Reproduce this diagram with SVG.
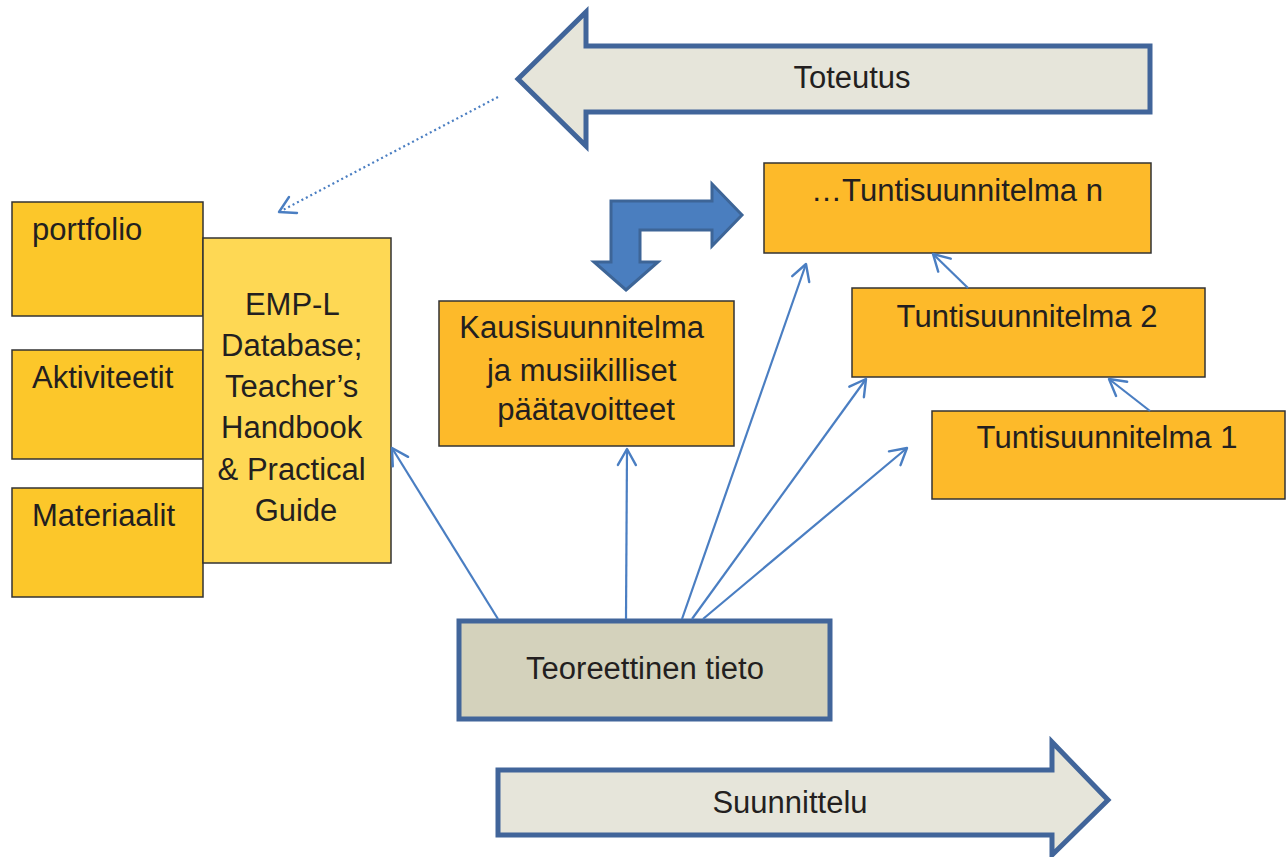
<svg xmlns="http://www.w3.org/2000/svg" width="1287" height="857" viewBox="0 0 1287 857">
  <style>
    .lbl { font-family: "Liberation Sans", Arial, sans-serif; font-size: 31px; fill: #231f20; }
    .mid { text-anchor: middle; }
    .box { stroke: #333; stroke-width: 1.5; }
    .side { fill: #fcc72a; }
    .db { fill: #fed854; }
    .plan { fill: #fdba2a; }
    .flow { fill: #e6e5da; stroke: #41659a; stroke-width: 5; stroke-linejoin: miter; }
    .link { fill: none; stroke: #4a7ec2; stroke-width: 2.2; marker-end: url(#open); }
  </style>
  <defs>
    <marker id="open" markerUnits="userSpaceOnUse" viewBox="-18 -11 20 22" markerWidth="20" markerHeight="22" refX="0" refY="0" orient="auto">
      <path d="M-16,-9 L0,0 L-16,9" fill="none" stroke="#4a7ec2" stroke-width="2.4" stroke-linecap="round" stroke-linejoin="round"/>
    </marker>
  </defs>

  <rect width="1287" height="857" fill="#ffffff"/>

  <!-- phase arrows -->
  <g id="toteutus">
    <path class="flow" d="M518,79 L586,12 L586,46 L1150,46 L1150,112 L586,112 L586,146 Z"/>
    <text class="lbl mid" x="852" y="88">Toteutus</text>
  </g>
  <g id="suunnittelu">
    <path class="flow" d="M498,770 L1052,770 L1052,742 L1108,800 L1052,855 L1052,835 L498,835 Z"/>
    <text class="lbl mid" x="790" y="813">Suunnittelu</text>
  </g>

  <!-- resource boxes -->
  <g id="portfolio">
    <rect class="box side" x="12" y="202" width="191" height="114"/>
    <text class="lbl" x="32" y="240">portfolio</text>
  </g>
  <g id="aktiviteetit">
    <rect class="box side" x="12" y="350" width="191" height="109"/>
    <text class="lbl" x="32" y="388">Aktiviteetit</text>
  </g>
  <g id="materiaalit">
    <rect class="box side" x="12" y="488" width="191" height="109"/>
    <text class="lbl" x="32" y="526">Materiaalit</text>
  </g>
  <g id="empl">
    <rect class="box db" x="203" y="238" width="188" height="325"/>
    <text class="lbl mid" x="296">
      <tspan x="296" y="315">EMP-L</tspan>
      <tspan x="296" y="356">Database;</tspan>
      <tspan x="296" y="397">Teacher’s</tspan>
      <tspan x="296" y="438">Handbook</tspan>
      <tspan x="296" y="480">&amp; Practical</tspan>
      <tspan x="296" y="521">Guide</tspan>
    </text>
  </g>

  <!-- plans -->
  <g id="kausi">
    <rect class="box plan" x="439" y="301" width="295" height="145"/>
    <text class="lbl mid" x="586">
      <tspan x="586" y="338">Kausisuunnitelma</tspan>
      <tspan x="586" y="381">ja musiikilliset</tspan>
      <tspan x="586" y="420">päätavoitteet</tspan>
    </text>
  </g>
  <g id="tunti-n">
    <rect class="box plan" x="764" y="163" width="387" height="90"/>
    <text class="lbl mid" x="957" y="201">…Tuntisuunnitelma n</text>
  </g>
  <g id="tunti-2">
    <rect class="box plan" x="852" y="288" width="353" height="89"/>
    <text class="lbl mid" x="1027" y="327">Tuntisuunnitelma 2</text>
  </g>
  <g id="tunti-1">
    <rect class="box plan" x="932" y="411" width="353" height="88"/>
    <text class="lbl mid" x="1107" y="448">Tuntisuunnitelma 1</text>
  </g>

  <!-- theory base -->
  <g id="teoria">
    <rect x="459" y="621" width="371" height="98" fill="#d4d2bc" stroke="#41659a" stroke-width="5"/>
    <text class="lbl mid" x="645" y="679">Teoreettinen tieto</text>
  </g>

  <!-- bent block arrow -->
  <g id="kaanne">
    <path d="M626,290 L658,262 L640,262 L640,230 L712,230 L712,246 L742,215 L712,184 L712,201 L611,201 L611,262 L594,262 Z" fill="#4a7ebf" stroke="#3d6597" stroke-width="3" stroke-linejoin="miter"/>
  </g>

  <!-- connectors -->
  <g id="connectors">
    <line class="link" x1="498" y1="619" x2="392" y2="448"/>
    <line class="link" x1="626" y1="619" x2="627" y2="449"/>
    <line class="link" x1="682" y1="619" x2="806" y2="264"/>
    <line class="link" x1="692" y1="619" x2="866" y2="379"/>
    <line class="link" x1="703" y1="619" x2="907" y2="448"/>
    <line class="link" x1="968" y1="288" x2="933" y2="254"/>
    <line class="link" x1="1150" y1="411" x2="1109" y2="379"/>
    <line x1="498" y1="97" x2="281" y2="211" fill="none" stroke="#4a7ec2" stroke-width="2.2" stroke-dasharray="2 3"/>
    <path d="M289,197 L279,212 L297,213" fill="none" stroke="#4a7ec2" stroke-width="2.4" stroke-linecap="round" stroke-linejoin="round"/>
  </g>
</svg>
